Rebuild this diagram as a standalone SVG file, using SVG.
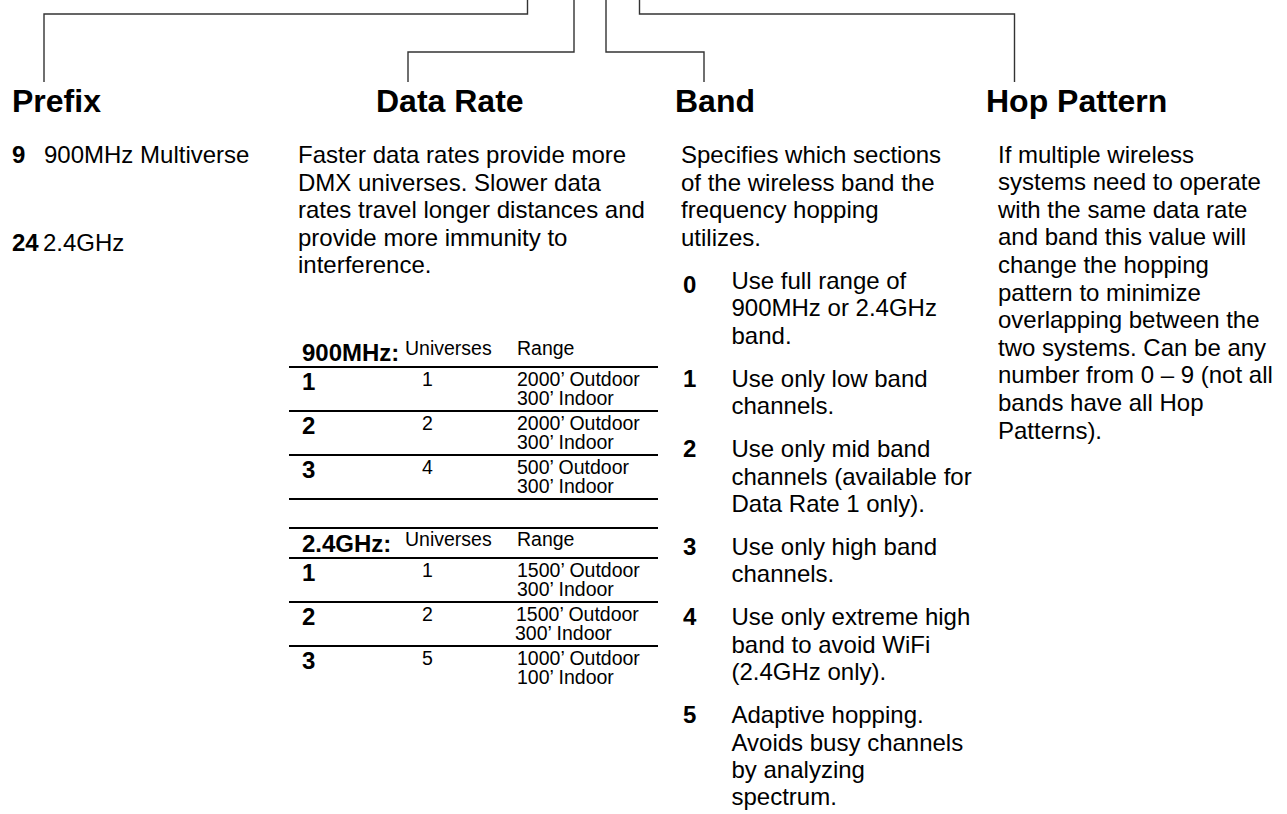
<svg xmlns="http://www.w3.org/2000/svg" width="1287" height="814" viewBox="0 0 1287 814">
<style>
text{font-family:"Liberation Sans",Arial,sans-serif;fill:#000}
.h{font-size:32px;font-weight:bold}
.b{font-size:24px}
.n{font-size:24px;font-weight:bold}
.s{font-size:19.5px}
.conn{fill:none;stroke:#333;stroke-width:1.4}
.rule{stroke:#000;stroke-width:2}
</style>
<rect width="1287" height="814" fill="#fff"/>
<g id="connectors">
<path class="conn" d="M527.5,0 V14 H44 V82"/>
<path class="conn" d="M574,0 V52 H408 V82"/>
<path class="conn" d="M606,0 V52 H704 V82"/>
<path class="conn" d="M639.5,0 V14 H1014.5 V82"/>
</g>
<g id="prefix">
<text class="h" x="12" y="111.5">Prefix</text>
<text class="n" x="12" y="163">9</text>
<text class="b" x="44" y="163">900MHz Multiverse</text>
<text class="n" x="12" y="250.5">24</text>
<text class="b" x="43" y="250.5">2.4GHz</text>
</g>
<g id="datarate">
<text class="h" x="376" y="111.5">Data Rate</text>
<text class="b" x="298" y="163">Faster data rates provide more</text>
<text class="b" x="298" y="190.6">DMX universes. Slower data</text>
<text class="b" x="298" y="218.2">rates travel longer distances and</text>
<text class="b" x="298" y="245.8">provide more immunity to</text>
<text class="b" x="298" y="273.4">interference.</text>
<g id="table900">
<text class="n" x="302" y="360.5">900MHz:</text>
<text class="s" x="405" y="355">Universes</text>
<text class="s" x="517" y="355">Range</text>
<line class="rule" x1="289" y1="367" x2="658" y2="367"/>
<text class="n" x="302" y="390">1</text>
<text class="s" x="422" y="385.5">1</text>
<text class="s" x="517" y="385.5">2000’ Outdoor</text>
<text class="s" x="517" y="405">300’ Indoor</text>
<line class="rule" x1="289" y1="411" x2="658" y2="411"/>
<text class="n" x="302" y="434">2</text>
<text class="s" x="422" y="429.5">2</text>
<text class="s" x="517" y="429.5">2000’ Outdoor</text>
<text class="s" x="517" y="449">300’ Indoor</text>
<line class="rule" x1="289" y1="455" x2="658" y2="455"/>
<text class="n" x="302" y="478">3</text>
<text class="s" x="422" y="473.5">4</text>
<text class="s" x="517" y="473.5">500’ Outdoor</text>
<text class="s" x="517" y="493">300’ Indoor</text>
<line class="rule" x1="289" y1="499" x2="658" y2="499"/>
</g>
<g id="table24">
<line class="rule" x1="289" y1="528" x2="658" y2="528"/>
<text class="n" x="302" y="551.5">2.4GHz:</text>
<text class="s" x="405" y="546">Universes</text>
<text class="s" x="517" y="546">Range</text>
<line class="rule" x1="289" y1="558" x2="658" y2="558"/>
<text class="n" x="302" y="581">1</text>
<text class="s" x="422" y="576.5">1</text>
<text class="s" x="517" y="576.5">1500’ Outdoor</text>
<text class="s" x="517" y="596">300’ Indoor</text>
<line class="rule" x1="289" y1="602" x2="658" y2="602"/>
<text class="n" x="302" y="625">2</text>
<text class="s" x="422" y="620.5">2</text>
<text class="s" x="516" y="620.5">1500’ Outdoor</text>
<text class="s" x="515" y="640">300’ Indoor</text>
<line class="rule" x1="289" y1="646" x2="658" y2="646"/>
<text class="n" x="302" y="669">3</text>
<text class="s" x="422" y="664.5">5</text>
<text class="s" x="517" y="664.5">1000’ Outdoor</text>
<text class="s" x="517" y="684">100’ Indoor</text>
</g>
</g>
<g id="band">
<text class="h" x="675" y="111.5">Band</text>
<text class="b" x="681" y="163">Specifies which sections</text>
<text class="b" x="681" y="190.6">of the wireless band the</text>
<text class="b" x="681" y="218.2">frequency hopping</text>
<text class="b" x="681" y="245.8">utilizes.</text>
<text class="n" x="683" y="293">0</text>
<text class="b" x="731.5" y="289">Use full range of</text>
<text class="b" x="731.5" y="316.4">900MHz or 2.4GHz</text>
<text class="b" x="731.5" y="343.8">band.</text>
<text class="n" x="683" y="386.8">1</text>
<text class="b" x="731.5" y="386.8">Use only low band</text>
<text class="b" x="731.5" y="414.2">channels.</text>
<text class="n" x="683" y="457.2">2</text>
<text class="b" x="731.5" y="457.2">Use only mid band</text>
<text class="b" x="731.5" y="484.6">channels (available for</text>
<text class="b" x="731.5" y="512">Data Rate 1 only).</text>
<text class="n" x="683" y="555">3</text>
<text class="b" x="731.5" y="555">Use only high band</text>
<text class="b" x="731.5" y="582.4">channels.</text>
<text class="n" x="683" y="625.4">4</text>
<text class="b" x="731.5" y="625.4">Use only extreme high</text>
<text class="b" x="731.5" y="652.8">band to avoid WiFi</text>
<text class="b" x="731.5" y="680.2">(2.4GHz only).</text>
<text class="n" x="683" y="723.2">5</text>
<text class="b" x="731.5" y="723.2">Adaptive hopping.</text>
<text class="b" x="731.5" y="750.6">Avoids busy channels</text>
<text class="b" x="731.5" y="778">by analyzing</text>
<text class="b" x="731.5" y="805.4">spectrum.</text>
</g>
<g id="hop">
<text class="h" x="986" y="111.5">Hop Pattern</text>
<text class="b" x="998" y="162.5">If multiple wireless</text>
<text class="b" x="998" y="190.1">systems need to operate</text>
<text class="b" x="998" y="217.7">with the same data rate</text>
<text class="b" x="998" y="245.3">and band this value will</text>
<text class="b" x="998" y="272.9">change the hopping</text>
<text class="b" x="998" y="300.5">pattern to minimize</text>
<text class="b" x="998" y="328.1">overlapping between the</text>
<text class="b" x="998" y="355.7">two systems. Can be any</text>
<text class="b" x="998" y="383.3">number from 0 – 9 (not all</text>
<text class="b" x="998" y="410.9">bands have all Hop</text>
<text class="b" x="998" y="438.5">Patterns).</text>
</g>
</svg>
